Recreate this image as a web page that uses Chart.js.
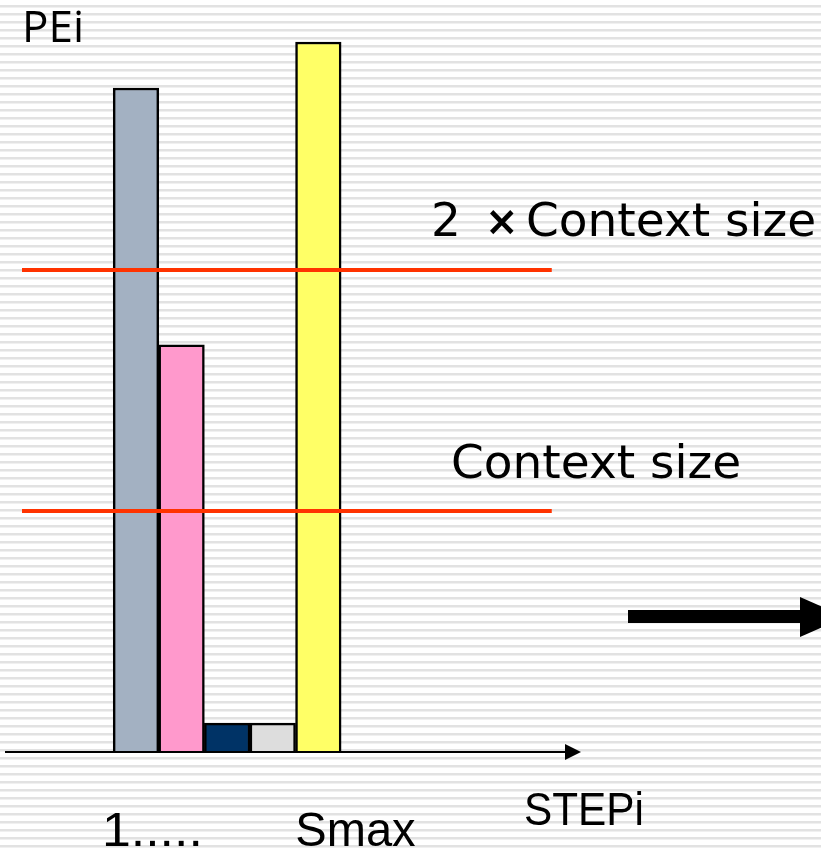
<!DOCTYPE html>
<html>
<head>
<meta charset="utf-8">
<script src="https://cdn.jsdelivr.net/npm/chart.js@4"></script>
<style>
  html, body { margin: 0; padding: 0; background: #fff; }
  canvas { display: block; }
</style>
</head>
<body>
<canvas id="myChart" width="821" height="848"></canvas>
<script>
// steps along STEPi, and the PE count of each (context size = 1)
var steps = [1, 2, 3, 4, 5];
var peValues = [2.755, 1.689, 0.12, 0.12, 2.946];
var barColors = ['#A3B1C2', '#FF99CC', '#003366', '#DDDDDD', '#FFFF66'];
var limitLevels = [1, 2];
var limitLabels = ['Context size', 'Context size'];
var lineSpan = [-1.5, 10.12];

// background stripes, axis arrow, big arrow and free text
var slideDecor = {
  id: 'slideDecor',
  beforeDraw: function (chart) {
    var c = chart.ctx;
    c.save();
    c.fillStyle = '#ffffff';
    c.fillRect(0, 0, chart.width, chart.height);
    c.fillStyle = '#e2e2e2';
    for (var y = 5; y < chart.height; y += 8) {
      c.fillRect(0, y, chart.width, 2.5);
    }
    c.restore();
  },
  afterDraw: function (chart) {
    var c = chart.ctx;
    var area = chart.chartArea;
    var x = chart.scales.x, yS = chart.scales.y;
    var base = yS.getPixelForValue(0);
    c.save();
    // x axis with arrow
    c.strokeStyle = '#000';
    c.lineWidth = 2;
    c.beginPath();
    c.moveTo(area.left, base);
    c.lineTo(area.right - 4, base);
    c.stroke();
    c.fillStyle = '#000';
    c.beginPath();
    c.moveTo(area.right - 5, base - 8);
    c.lineTo(area.right + 11, base);
    c.lineTo(area.right - 5, base + 8);
    c.closePath();
    c.fill();

    // big black arrow on the right
    c.fillRect(628, 610, 174, 13);
    c.beginPath();
    c.moveTo(800, 597);
    c.lineTo(845, 617);
    c.lineTo(800, 637);
    c.closePath();
    c.fill();

    // texts
    c.fillStyle = '#000';
    c.textBaseline = 'alphabetic';
    c.font = '44px "Open Sans"';
    c.fillText('PEi', 22, 42);

    c.font = '47px "DejaVu Sans"';
    var y2 = yS.getPixelForValue(limitLevels[1]) - 34;
    var y1 = yS.getPixelForValue(limitLevels[0]) - 33;
    c.fillText('2', 431, y2);
    c.font = 'bold 40px "DejaVu Sans"';
    c.fillText('\u00d7', 485, y2 - 1);
    c.font = '47px "DejaVu Sans"';
    c.fillText(limitLabels[1], 526, y2);
    c.fillText(limitLabels[0], 451, y1);

    // condensed labels
    function narrow(t, px, py, size, sx) {
      c.save();
      c.font = size + 'px "Liberation Sans"';
      c.translate(px, py);
      c.scale(sx, 1);
      c.fillText(t, 0, 0);
      c.restore();
    }
    narrow('STEPi', 524, 825, 47, 0.9);
    narrow('1.....', x.getPixelForValue(steps[0]) - 34, 846, 48, 1.08);
    narrow('Smax', x.getPixelForValue(steps[4]) - 23, 846, 48, 0.98);
    c.restore();
  }
};

var ctx = document.getElementById('myChart').getContext('2d');
var myChart = new Chart(ctx, {
  type: 'bar',
  data: {
    datasets: [{
      type: 'line',
      data: [{x: lineSpan[0], y: limitLevels[1]}, {x: lineSpan[1], y: limitLevels[1]}],
      borderColor: '#FF3300',
      borderWidth: 4,
      pointRadius: 0,
      order: 0
    }, {
      type: 'line',
      data: [{x: lineSpan[0], y: limitLevels[0]}, {x: lineSpan[1], y: limitLevels[0]}],
      borderColor: '#FF3300',
      borderWidth: 4,
      pointRadius: 0,
      order: 0
    }, {
      type: 'bar',
      data: steps.map(function (s, i) { return {x: s, y: peValues[i]}; }),
      backgroundColor: barColors,
      borderColor: '#000',
      borderWidth: 2.5,
      borderSkipped: 'bottom',
      barPercentage: 1,
      categoryPercentage: 1,
      order: 1
    }]
  },
  options: {
    responsive: false,
    animation: false,
    layout: { padding: { left: 5, right: 251, top: 0, bottom: 96 } },
    plugins: {
      legend: { display: false },
      tooltip: { enabled: false }
    },
    scales: {
      x: { type: 'linear', min: -1.873, max: 10.52, offset: false, display: false },
      y: { min: 0, max: 3.1203, display: false }
    }
  },
  plugins: [slideDecor]
});
</script>
</body>
</html>
